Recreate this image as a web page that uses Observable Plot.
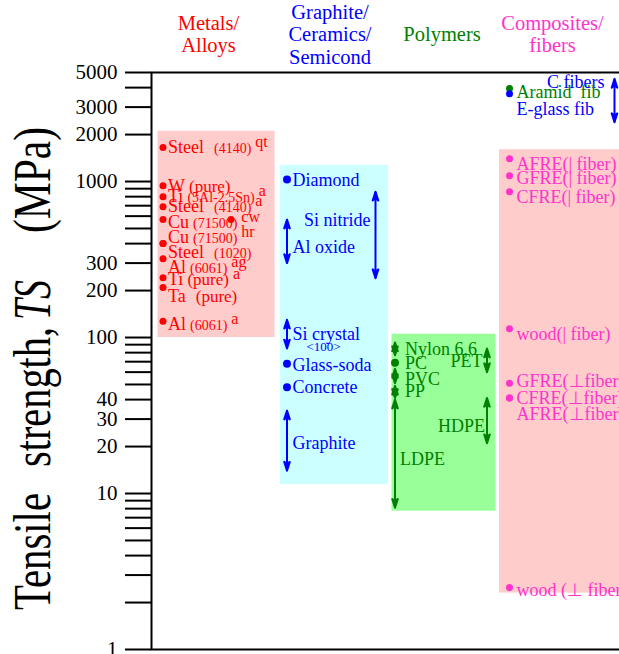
<!DOCTYPE html>
<html>
<head>
<meta charset="utf-8">
<script src="https://cdn.jsdelivr.net/npm/d3@7"></script>
<script src="https://cdn.jsdelivr.net/npm/@observablehq/plot@0.6"></script>
<style>
  html, body { margin: 0; padding: 0; background: #fff; overflow: hidden; }
  #chart svg { display: block; }
</style>
</head>
<body>
<div id="chart"></div>
<script>
// ---------------------------------------------------------------- data (MPa)
const categories = ["Metals/Alloys", "Graphite/Ceramics/Semicond", "Polymers", "Composites/fibers"];
const [METALS, CERAMICS, POLYMERS, COMPOSITES] = categories;

// shaded span of each material class
const classLow  = [100, 11.4, 7.7, 2.3];
const classHigh = [2100, 1270, 105, 1600];

const metals = [
  {name: "Steel", spec: "(4140)", cond: "qt", ts: 1650},
  {name: "W", spec: "(pure)", cond: "", ts: 940},
  {name: "Ti", spec: "(5Al-2.5Sn)", cond: "a", ts: 800},
  {name: "Steel", spec: "(4140)", cond: "a", ts: 690},
  {name: "Cu", spec: "(71500)", cond: "cw", ts: 570},
  {name: "Cu", spec: "(71500)", cond: "hr", ts: 400},
  {name: "Steel", spec: "(1020)", cond: "", ts: 400},
  {name: "Al", spec: "(6061)", cond: "ag", ts: 320},
  {name: "Ti", spec: "(pure)", cond: "a", ts: 242},
  {name: "Ta", spec: "(pure)", cond: "", ts: 209},
  {name: "Al", spec: "(6061)", cond: "a", ts: 127}
];

const ceramicPoints = [
  {label: "Diamond", ts: 1030},
  {label: "Glass-soda", ts: 68},
  {label: "Concrete", ts: 48}
];
const ceramicRanges = [
  {label: "Si nitride", low: 240, high: 860},
  {label: "Al oxide", low: 300, high: 570},
  {label: "Si crystal", note: "<100>", low: 85, high: 130},
  {label: "Graphite", low: 14, high: 34}
];

const polymerPoints = [
  {label: "PC", ts: 69}
];
const polymerRanges = [
  {label: "Nylon 6,6", low: 77, high: 93},
  {label: "PVC", low: 51, high: 63},
  {label: "PP", low: 41, high: 49},
  {label: "LDPE", low: 8.1, high: 40},
  {label: "PET", low: 60, high: 85},
  {label: "HDPE", low: 21, high: 41}
];

// fibres are coloured by the class of their material
const fiberRanges = [
  {label: "C fibers", family: CERAMICS, low: 2400, high: 4550}
];
const fiberPoints = [
  {label: "Aramid  fib", family: POLYMERS, ts: 3950},
  {label: "E-glass fib", family: CERAMICS, ts: 3650}
];
const compositePoints = [
  {label: "AFRE(| fiber)", ts: 1400},
  {label: "GFRE(| fiber)", ts: 1090},
  {label: "CFRE(| fiber)", ts: 860},
  {label: "wood(| fiber)", ts: 114},
  {label: "GFRE(\u22a5fiber)", ts: 51},
  {label: "CFRE(\u22a5fiber)", ts: 41},
  {label: "AFRE(\u22a5fiber)", ts: 41},
  {label: "wood (\u22a5 fiber)", ts: 2.5}
];

const labeledTicks = [1, 10, 20, 30, 40, 100, 200, 300, 1000, 2000, 3000, 5000];
const minorTicks = [2, 3, 4, 5, 6, 7, 8, 9, 50, 60, 70, 80, 90, 400, 500, 600, 700, 800, 900, 4000];

// ---------------------------------------------------------------- style
const classColors = ["#ff0000", "#0000ff", "#008000", "#ff33cc"];
const classShades = ["#ffcccc", "#ccffff", "#99ff99", "#ffcccc"];
const serif = "'Liberation Serif', 'Times New Roman', Times, serif";

// horizontal placement inside each column, relative to the band centre (px)
const column = {
  [METALS]:     {inset: [-2.5, -2.5], header: -8,   marker: -53.5, text: -48.5, extra: 14.5},
  [CERAMICS]:   {inset: [6, -2],      header: -0.5, marker: -43.5, text: -38,   right: 45,   rightText: 40},
  [POLYMERS]:   {inset: [3.5, 4.5],   header: -2.5, marker: -49.5, text: -39.5, right: 42.5, rightText: 38},
  [COMPOSITES]: {inset: [-3, -6],     header: -6,   marker: -49,   text: -42,   right: 56,   rightText: 46}
};
// ranges drawn against the right edge of their column
const rightSide = new Set(["Si nitride", "PET", "HDPE", "C fibers"]);
// offsets (px) of a label from its marker, so stacked names stay legible
const nudge = {
  "W (pure)": {dy: 1},
  "Cu (71500) cw": {dy: 3},
  "Cu (71500) hr": {dy: -6},
  "Steel (1020)": {dy: 9},
  "Al (6061) ag": {dy: 9},
  "Ti (pure) a": {dy: 2},
  "Ta (pure)": {dy: 9},
  "Al (6061) a": {dy: 3},
  "Diamond": {dy: 1},
  "Glass-soda": {dy: 2},
  "Si nitride": {dy: -14.5},
  "Al oxide": {dy: 6},
  "Graphite": {dy: 2.5},
  "PC": {dy: 1},
  "PVC": {dy: 3},
  "PP": {dy: -1},
  "LDPE": {dx: -5, dy: 5.5},
  "PET": {dy: 1},
  "HDPE": {dx: 2.5, dy: 5.5},
  "C fibers": {dy: -18},
  "Aramid  fib": {dy: 4},
  "E-glass fib": {dy: 15},
  "AFRE(| fiber)": {dy: 5},
  "GFRE(| fiber)": {dy: 3},
  "CFRE(| fiber)": {dy: 5},
  "wood(| fiber)": {dy: 6},
  "GFRE(\u22a5fiber)": {dy: -2},
  "AFRE(\u22a5fiber)": {dy: 16},
  "wood (\u22a5 fiber)": {dy: 3}
};

// ---------------------------------------------------------------- helpers
const metalLabel = d => `${d.name} ${d.spec}${d.cond ? " " + d.cond : ""}`;
const rangeMid = d => Math.sqrt(d.low * d.high); // centre of a range on the log axis
const familyOf = cat => d => d.family ?? cat;

function dotMark(data, cat, r, dx = column[cat].marker) {
  return Plot.dot(data, {x: () => cat, y: "ts", r, fill: familyOf(cat), dx});
}

function rangeMarks(data, cat) {
  const c = column[cat];
  return [false, true].map(right => Plot.link(data.filter(d => rightSide.has(d.label) === right), {
    x1: () => cat, x2: () => cat, y1: "low", y2: "high",
    stroke: familyOf(cat), strokeWidth: 2,
    markerStart: "arrow", markerEnd: "arrow",
    dx: right ? c.right : c.marker
  }));
}

function labelMarks(data, cat, y, text = "label", tag) {
  const c = column[cat];
  return data.map(d => {
    const key = typeof text === "function" ? text(d) : d[text];
    const n = nudge[key] || {};
    const right = rightSide.has(key);
    return Plot.text([d], {
      x: () => cat, y, text,
      fill: familyOf(cat),
      textAnchor: right ? "end" : "start",
      dx: (right ? c.rightText : c.text) + (n.dx || 0),
      dy: n.dy || 0,
      fontSize: 18,
      ariaDescription: tag,
      className: tag ? tag.replace(/\s+/g, "-") : undefined
    });
  });
}

const boxes = categories.map((category, i) => ({category, low: classLow[i], high: classHigh[i]}));

// ---------------------------------------------------------------- chart
const chart = Plot.plot({
  width: 619,
  height: 654,
  marginTop: 72,
  marginBottom: 5,
  marginLeft: 151,
  marginRight: 0,
  style: {fontFamily: serif, fontSize: "18px", background: "#fff", color: "#000"},
  x: {type: "band", domain: categories, range: [159.5, 615], paddingInner: 0.0218, paddingOuter: 0, align: 0.5, axis: null},
  y: {type: "log", domain: [1, 5000]},
  color: {domain: categories, range: classColors},
  marks: [
    // class backgrounds
    ...boxes.map((b, i) => Plot.barY([b], {
      x: "category", y1: "low", y2: "high", fill: classShades[i],
      insetLeft: column[b.category].inset[0], insetRight: column[b.category].inset[1]
    })),

    // axis: every log tick, numbers only where labelled
    Plot.axisY({
      ticks: [...labeledTicks, ...minorTicks],
      tickSize: 26, strokeWidth: 2,
      tickFormat: () => "", label: null
    }),
    Plot.text(labeledTicks, {
      y: d => d, text: d => String(d),
      frameAnchor: "left", textAnchor: "end", dx: -34, fontSize: 21
    }),
    Plot.frame({stroke: "#000", strokeWidth: 2, insetRight: -4}),

    // class headings
    ...categories.map(cat => Plot.text([cat], {
      x: d => d, text: d => d.replace(/\/(?=.)/g, "/\n"),
      frameAnchor: "top", lineAnchor: "middle", dy: -38.5, dx: column[cat].header,
      fill: d => d, fontSize: 20.5, lineHeight: 1.1
    })),

    // metals / alloys
    dotMark(metals, METALS, 3.5),
    dotMark(metals.filter(d => d.cond === "cw"), METALS, 3.5, column[METALS].extra),
    ...labelMarks(metals, METALS, "ts", metalLabel, "metal label"),

    // graphite / ceramics / semiconductors
    ...rangeMarks(ceramicRanges, CERAMICS),
    dotMark(ceramicPoints, CERAMICS, 4),
    ...labelMarks(ceramicPoints, CERAMICS, "ts"),
    ...labelMarks(ceramicRanges, CERAMICS, rangeMid),
    Plot.text(ceramicRanges.filter(d => d.note), {
      x: () => CERAMICS, y: rangeMid, text: "note", fill: familyOf(CERAMICS),
      textAnchor: "middle", dx: -7, dy: 13, fontSize: 13
    }),

    // polymers
    ...rangeMarks(polymerRanges, POLYMERS),
    dotMark(polymerPoints, POLYMERS, 4),
    ...labelMarks(polymerPoints, POLYMERS, "ts"),
    ...labelMarks(polymerRanges, POLYMERS, rangeMid),

    // composites / fibers
    ...rangeMarks(fiberRanges, COMPOSITES),
    ...labelMarks(fiberRanges, COMPOSITES, rangeMid),
    dotMark(fiberPoints, COMPOSITES, 3.5),
    ...labelMarks(fiberPoints, COMPOSITES, "ts"),
    dotMark(compositePoints, COMPOSITES, 3.5),
    ...labelMarks(compositePoints, COMPOSITES, "ts")
  ]
});

document.getElementById("chart").append(chart);
const root = d3.select(chart);

// solid, longer arrowheads on the range arrows, pointing outward at both ends
root.selectAll("marker").each(function () {
  const m = d3.select(this);
  m.attr("fill", m.attr("stroke"))
    .attr("overflow", "visible")
    .attr("orient", "auto-start-reverse");
  m.select("path").attr("d", "M0,0L-6.6,-2.1L-5,0L-6.6,2.1Z");
});

// metal names: grade in small type, condition raised
root.selectAll('g[aria-description="metal label"] text, g.metal-label text').each(function (_, i) {
  const d = metals[i];
  if (!d) return;
  const t = d3.select(this).text(null);
  t.append("tspan").text(d.name);
  t.append("tspan")
    .attr("dx", d.name === "Steel" || d.name === "Ta" ? 10 : 4)
    .attr("font-size", /\d/.test(d.spec) ? 14 : 17)
    .text(d.spec);
  if (d.cond) t.append("tspan").attr("dx", 4).attr("dy", -6).attr("font-size", 16).text(d.cond);
});

// rotated y-axis title
const titleWords = [
  {text: "Tensile", start: 610, length: 117},
  {text: "strength,", start: 467, length: 140},
  {text: "TS", start: 320, length: 40, italic: true},
  {text: "(MPa)", start: 233, length: 106}
];
root.append("g")
  .attr("font-family", serif).attr("font-size", 52).attr("fill", "#000")
  .attr("text-anchor", "start")
  .selectAll("text").data(titleWords).join("text")
  .attr("transform", d => `translate(50,${d.start}) rotate(-90)`)
  .attr("textLength", d => d.length)
  .attr("lengthAdjust", "spacingAndGlyphs")
  .attr("font-style", d => d.italic ? "italic" : null)
  .text(d => d.text);
</script>
</body>
</html>
